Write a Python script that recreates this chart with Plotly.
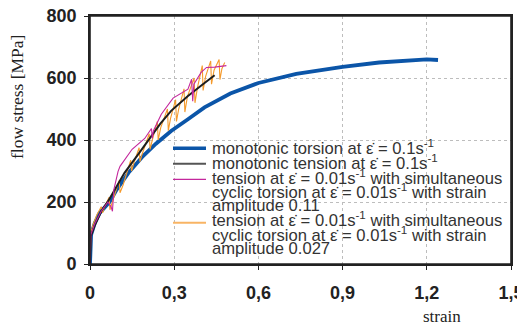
import plotly.graph_objects as go

# ---- data ----
torsion_x = [0, 0.004, 0.017, 0.034, 0.07, 0.095, 0.137, 0.189, 0.235, 0.289, 0.349, 0.408,
             0.5, 0.6, 0.735, 0.9, 1.03, 1.2, 1.24]
torsion_y = [0, 95, 132, 164, 200, 240, 294, 348, 388, 429, 467, 505,
             550, 584, 613, 636, 650, 660, 658]

tension_x = [0, 0.003, 0.017, 0.04, 0.064, 0.088, 0.123, 0.171, 0.21, 0.25, 0.289, 0.349, 0.4, 0.444]
tension_y = [0, 90, 125, 170, 202, 240, 294, 353, 400, 452, 494, 542, 578, 609]

cyc11_x = [0, 0.003, 0.017, 0.04, 0.064, 0.075, 0.08, 0.085, 0.1, 0.107, 0.15, 0.195, 0.219,
           0.222, 0.226, 0.254, 0.296, 0.349, 0.362, 0.366, 0.37, 0.396, 0.415, 0.444, 0.486]
cyc11_y = [0, 95, 130, 170, 200, 185, 170, 240, 299, 315, 370, 405, 437,
           405, 430, 483, 535, 564, 596, 525, 580, 618, 634, 635, 640]

cyc027_x = [0, 0.004, 0.012, 0.025, 0.040, 0.045, 0.05, 0.068, 0.071, 0.08, 0.104, 0.107, 0.118,
            0.145, 0.148, 0.156, 0.175, 0.178, 0.186, 0.211, 0.214, 0.222, 0.240, 0.243, 0.252,
            0.276, 0.279, 0.287, 0.305, 0.308, 0.316, 0.335, 0.338, 0.347, 0.371, 0.374, 0.383,
            0.400, 0.403, 0.412, 0.430, 0.433, 0.442, 0.460, 0.463, 0.470, 0.480]
cyc027_y = [0, 105, 130, 160, 185, 165, 180, 215, 175, 200, 270, 230, 255,
            335, 300, 325, 375, 330, 355, 420, 370, 400, 460, 400, 440,
            500, 430, 470, 530, 460, 500, 565, 490, 540, 600, 520, 570,
            640, 560, 605, 655, 580, 625, 660, 595, 630, 650]

x_tickvals = [0, 0.3, 0.6, 0.9, 1.2, 1.5]
x_ticktext = ["0", "0,3", "0,6", "0,9", "1,2", "1,5"]
y_tickvals = [0, 200, 400, 600, 800]

legend_lines = [
    "monotonic torsion at ε̇ = 0.1s<sup>-1</sup>",
    "monotonic tension at ε̇ = 0.1s<sup>-1</sup>",
    "tension at ε̇ = 0.01s<sup>-1</sup> with simultaneous",
    "cyclic torsion at ε̇ = 0.01s<sup>-1</sup> with strain",
    "amplitude 0.11",
    "tension at ε̇ = 0.01s<sup>-1</sup> with simultaneous",
    "cyclic torsion at ε̇ = 0.01s<sup>-1</sup> with strain",
    "amplitude 0.027",
]

C_BLUE = "#0b55a8"
C_BLACK = "#1e1e1e"
C_MAG = "#c4279c"
C_ORANGE = "#f59a2c"

fig = go.Figure()
fig.add_trace(go.Scatter(x=torsion_x, y=torsion_y, mode="lines",
                         line=dict(color=C_BLUE, width=3.8)))
fig.add_trace(go.Scatter(x=cyc027_x, y=cyc027_y, mode="lines",
                         line=dict(color=C_ORANGE, width=1.1)))
fig.add_trace(go.Scatter(x=tension_x, y=tension_y, mode="lines",
                         line=dict(color=C_BLACK, width=2)))
fig.add_trace(go.Scatter(x=cyc11_x, y=cyc11_y, mode="lines",
                         line=dict(color=C_MAG, width=1.1)))

# page offset (body margin of the html page)
OFF = 8
FW, FH = 525 - OFF, 327 - OFF
# plot area geometry in page px
L, R, T, B = 90, 511, 16, 264
W, H = R - L, B - T
px = lambda p: (p - L) / W
py = lambda p: (B - p) / H

shapes = [dict(type="rect", xref="paper", yref="paper", layer="between",
               x0=px(168), x1=px(510), y0=py(258), y1=py(139),
               fillcolor="white", line=dict(width=0)),
          dict(type="rect", xref="paper", yref="paper", layer="above",
               x0=0, x1=1, y0=0, y1=1, line=dict(color="#222222", width=1.6))]
sym = [(148.3, C_BLUE, 3.6), (163.7, "#555555", 2), (179.3, C_MAG, 1.2), (222.7, "#f8b464", 2)]
for yy, c, w in sym:
    shapes.append(dict(type="line", xref="paper", yref="paper",
                       x0=px(173), x1=px(206), y0=py(yy), y1=py(yy),
                       line=dict(color=c, width=w)))

line_y = [146.7, 161.7, 176.7, 191, 205, 219.3, 234, 248.3]
annotations = []
for txt, yy in zip(legend_lines, line_y):
    annotations.append(dict(text=txt, xref="paper", yref="paper", x=px(210), y=py(yy),
                            xanchor="left", yanchor="middle", showarrow=False,
                            font=dict(family="Liberation Sans, Arial", size=16.6, color="#333333")))
annotations.append(dict(text="strain", xref="paper", yref="paper", x=px(442), y=py(316.5),
                        xanchor="center", yanchor="middle", showarrow=False,
                        font=dict(family="Liberation Serif, Times New Roman", size=17, color="#222222")))
annotations.append(dict(text="flow stress [MPa]", xref="paper", yref="paper", x=px(17), y=py(97),
                        xanchor="center", yanchor="middle", showarrow=False, textangle=-90,
                        font=dict(family="Liberation Serif, Times New Roman", size=17.5, color="#222222")))

tickfont = dict(family="Liberation Sans, Arial", size=18, color="#222222", weight="bold")

fig.update_layout(
    width=FW, height=FH,
    margin=dict(l=L - OFF, r=FW - (R - OFF), t=T - OFF, b=FH - (B - OFF), autoexpand=False),
    paper_bgcolor="white", plot_bgcolor="white",
    showlegend=False,
    shapes=shapes, annotations=annotations,
    xaxis=dict(range=[0, 1.5], tickvals=x_tickvals, ticktext=x_ticktext,
               showgrid=True, gridcolor="#bdbdbd", griddash="dot", gridwidth=1,
               showline=True, linecolor="#222222", linewidth=1.6, mirror=True,
               ticks="outside", ticklen=4, tickcolor="#222222", tickfont=tickfont,
               ticklabelstandoff=8, ticklabeloverflow="allow", zeroline=False),
    yaxis=dict(range=[0, 800], tickvals=y_tickvals,
               showgrid=True, gridcolor="#bdbdbd", griddash="dot", gridwidth=1,
               showline=True, linecolor="#222222", linewidth=1.6, mirror=True,
               ticks="outside", ticklen=4, tickcolor="#222222", tickfont=tickfont,
               ticklabelstandoff=4, ticklabeloverflow="allow", zeroline=False),
)

fig.write_html("out.html")
